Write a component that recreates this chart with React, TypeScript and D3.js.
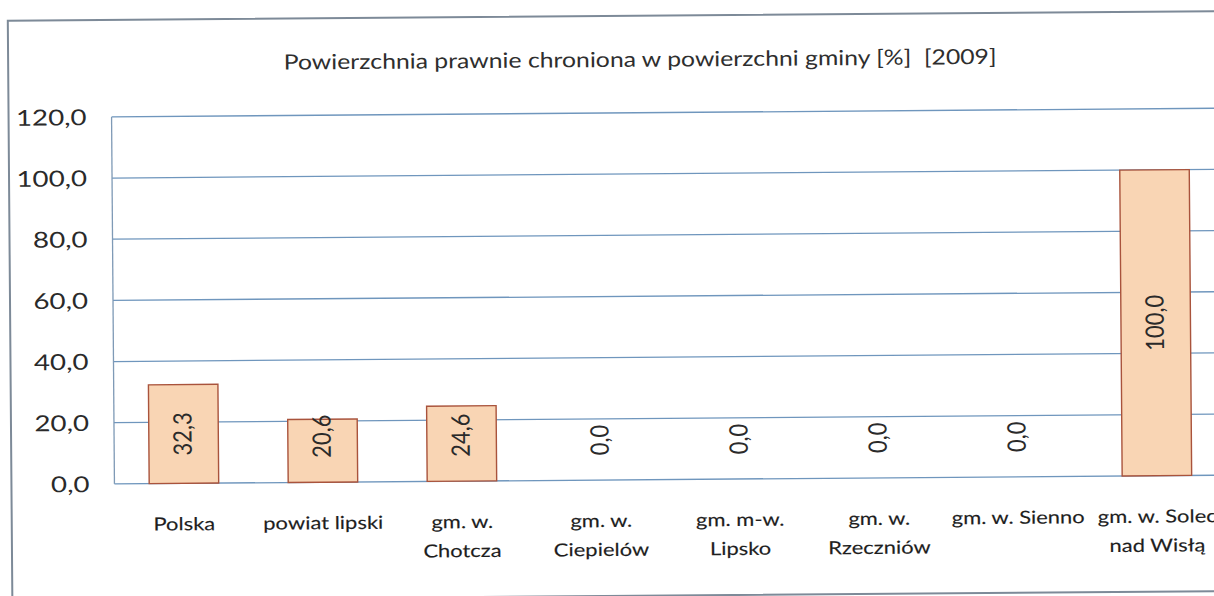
import React from "react";
import * as d3 from "d3";

const title = "Powierzchnia prawnie chroniona w powierzchni gminy [%]\u00a0 [2009]";
const categories = [
  "Polska",
  "powiat lipski",
  "gm. w.\nChotcza",
  "gm. w.\nCiepielów",
  "gm. m-w.\nLipsko",
  "gm. w.\nRzeczniów",
  "gm. w. Sienno",
  "gm. w. Solec\nnad Wisłą",
];
const values = [32.3, 20.6, 24.6, 0.0, 0.0, 0.0, 0.0, 100.0];
const yTicks = [0, 20, 40, 60, 80, 100, 120];

const W = 1214;
const H = 596;
const plot = { left: 113, top: 113, right: 1225, bottom: 480 };
const FONT = "Lato, 'Open Sans', sans-serif";
const SX = 1.22; // horizontal stretch of the scanned page
const fmt = (v: number) => v.toFixed(1).replace(".", ",");

export default function App() {
  const x = d3
    .scaleBand<string>()
    .domain(categories)
    .range([plot.left, plot.right])
    .paddingInner(0.5)
    .paddingOuter(0.25);
  const y = d3.scaleLinear().domain([0, 120]).range([plot.bottom, plot.top]);

  return (
    <svg
      width={W}
      height={H}
      style={{ position: "absolute", left: 0, top: 0, background: "#fff" }}
      fontFamily={FONT}
    >
      <rect x={0} y={0} width={W} height={H} fill="#fff" />
      <g transform="rotate(-0.45 607 298)">
        {/* outer frame */}
        <rect x={10} y={16} width={W + 40} height={580} fill="none" stroke="#7d8a98" strokeWidth={2} />
        <g transform={`translate(642,67) scale(1.18,1)`}>
          <text x={0} y={0} textAnchor="middle" fontSize={21} fill="#2e2e2e">
            {title}
          </text>
        </g>
        {/* gridlines */}
        {yTicks.map((t) => (
          <line
            key={t}
            x1={plot.left}
            x2={plot.right + 20}
            y1={y(t)}
            y2={y(t)}
            stroke="#6f96bd"
            strokeWidth={1.3}
          />
        ))}
        <line x1={plot.left} x2={plot.left} y1={plot.top} y2={plot.bottom} stroke="#7f9ab6" strokeWidth={1.3} />
        {/* y tick labels */}
        {yTicks.map((t) => (
          <g key={t} transform={`translate(88,${y(t) + 8}) scale(1.26,1)`}>
            <text x={0} y={0} textAnchor="end" fontSize={22} fill="#2a2a2a">
              {fmt(t)}
            </text>
          </g>
        ))}
        {/* bars */}
        {categories.map((c, i) => {
          const v = values[i];
          if (v <= 0) return null;
          return (
            <rect
              key={c}
              x={x(c)!}
              y={y(v)}
              width={x.bandwidth()}
              height={y(0) - y(v)}
              fill="#f9d5b4"
              stroke="#a9533c"
              strokeWidth={1.4}
            />
          );
        })}
        {/* data labels */}
        {categories.map((c, i) => {
          const v = values[i];
          const cx = x(c)! + x.bandwidth() / 2;
          const halfLen = fmt(v).length * 6;
          let cy = (y(0) + y(v)) / 2;
          cy = Math.min(cy, y(0) - 22 - halfLen);
          return (
            <g key={c} transform={`translate(${cx + 8},${cy}) scale(1.15,1) rotate(-90)`}>
              <text x={0} y={0} textAnchor="middle" fontSize={22} fill="#2a2a2a">
                {fmt(v)}
              </text>
            </g>
          );
        })}
        {/* x labels */}
        {categories.map((c) => {
          const cx = x(c)! + x.bandwidth() / 2;
          return c.split("\n").map((line, j) => (
            <g key={c + j} transform={`translate(${cx},${527 + j * 29}) scale(${SX},1)`}>
              <text
                x={0}
                y={0}
                textAnchor="middle"
                fontSize={18}
                fill="#1e1e1e"
                stroke="#1e1e1e"
                strokeWidth={0.15}
              >
                {line}
              </text>
            </g>
          ));
        })}
      </g>
    </svg>
  );
}
